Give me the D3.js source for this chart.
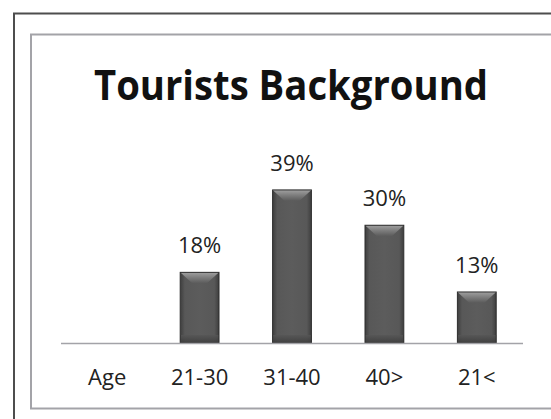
<!DOCTYPE html>
<html>
<head>
<meta charset="utf-8">
<script src="https://cdn.jsdelivr.net/npm/d3@7/dist/d3.min.js"></script>
<style>
  html, body { margin: 0; padding: 0; background: #fff; }
  svg { display: block; }
</style>
</head>
<body>
<svg id="chart" width="551" height="419"></svg>
<script>
// Age groups of surveyed tourists (first slot is the axis caption, no bar)
const categories = ["Age", "21-30", "31-40", "40>", "21<"];
const shares = [null, 0.18, 0.39, 0.30, 0.13];
const valueLabels = ["", "18%", "39%", "30%", "13%"];
const title = "Tourists Background";

const svg = d3.select("#chart");
const font = "'Open Sans', 'Liberation Sans', sans-serif";

// frames
svg.append("rect").attr("x", 14).attr("y", 13.5).attr("width", 560).attr("height", 430)
  .attr("fill", "none").attr("stroke", "#4d4d4d").attr("stroke-width", 2);
svg.append("rect").attr("x", 31).attr("y", 34.5).attr("width", 560).attr("height", 374)
  .attr("fill", "none").attr("stroke", "#a3a3a8").attr("stroke-width", 2);

// title
svg.append("text")
  .attr("x", 291).attr("y", 100)
  .attr("text-anchor", "middle")
  .attr("font-family", font).attr("font-weight", "bold").attr("font-size", 41)
  .attr("textLength", 394).attr("lengthAdjust", "spacingAndGlyphs")
  .attr("fill", "#111")
  .text(title);

const x = d3.scaleBand().domain(categories).range([61, 523]).paddingInner(0.58).paddingOuter(0.29);
const y = d3.scaleLinear().domain([0, 0.4]).range([343, 186]);

const defs = svg.append("defs");
const body = defs.append("linearGradient").attr("id", "barBody").attr("x1", 0).attr("x2", 1).attr("y1", 0).attr("y2", 0);
[[0, "#3e3e3e"], [0.12, "#585858"], [0.5, "#5c5c5c"], [0.88, "#585858"], [1, "#3e3e3e"]]
  .forEach(([o, c]) => body.append("stop").attr("offset", o).attr("stop-color", c));
const bevel = defs.append("linearGradient").attr("id", "barBevel").attr("x1", 0).attr("x2", 0).attr("y1", 0).attr("y2", 1);
[[0, "#a0a0a0"], [0.5, "#7c7c7c"], [1, "#5a5a5a"]]
  .forEach(([o, c]) => bevel.append("stop").attr("offset", o).attr("stop-color", c));
const bottomShade = defs.append("linearGradient").attr("id", "barBottom").attr("x1", 0).attr("x2", 0).attr("y1", 0).attr("y2", 1);
[[0, "#565656"], [1, "#3a3a3a"]]
  .forEach(([o, c]) => bottomShade.append("stop").attr("offset", o).attr("stop-color", c));

const data = categories.map((c, i) => ({ c, v: shares[i], label: valueLabels[i] })).filter(d => d.v != null);

const bars = svg.append("g").selectAll("g").data(data).join("g");
bars.append("rect")
  .attr("x", d => x(d.c)).attr("y", d => y(d.v))
  .attr("width", x.bandwidth()).attr("height", d => y(0) - y(d.v))
  .attr("fill", "url(#barBody)");
// lower shading band
bars.append("rect")
  .attr("x", d => x(d.c)).attr("y", d => y(0) - 8)
  .attr("width", x.bandwidth()).attr("height", 8)
  .attr("fill", "url(#barBottom)").attr("opacity", 0.8);
// top bevel
bars.append("polygon")
  .attr("points", d => {
    const x0 = x(d.c), x1 = x0 + x.bandwidth(), t = y(d.v), b = 11;
    return [[x0, t], [x1, t], [x1 - 12, t + b], [x0 + 12, t + b]].map(p => p.join(",")).join(" ");
  })
  .attr("fill", "url(#barBevel)");
bars.append("rect")
  .attr("x", d => x(d.c)).attr("y", d => y(d.v))
  .attr("width", x.bandwidth()).attr("height", d => y(0) - y(d.v))
  .attr("fill", "none").attr("stroke", "#2e2e2e").attr("stroke-width", 1);

// value labels
bars.append("text")
  .attr("x", d => x(d.c) + x.bandwidth() / 2)
  .attr("y", d => y(d.v) - 19)
  .attr("text-anchor", "middle")
  .attr("font-family", font).attr("font-size", 22)
  .attr("fill", "#222")
  .text(d => d.label);

// baseline
svg.append("line").attr("x1", 61).attr("x2", 523).attr("y1", y(0) + 0.5).attr("y2", y(0) + 0.5)
  .attr("stroke", "#a3a3a8").attr("stroke-width", 1.5);

// category axis
const axis = svg.append("g").attr("transform", `translate(0,${y(0)})`)
  .call(d3.axisBottom(x).tickSize(0).tickPadding(0));
axis.select(".domain").remove();
axis.selectAll("text")
  .attr("y", 42).attr("dy", 0)
  .attr("font-family", font).attr("font-size", 22).attr("fill", "#222");
</script>
</body>
</html>
